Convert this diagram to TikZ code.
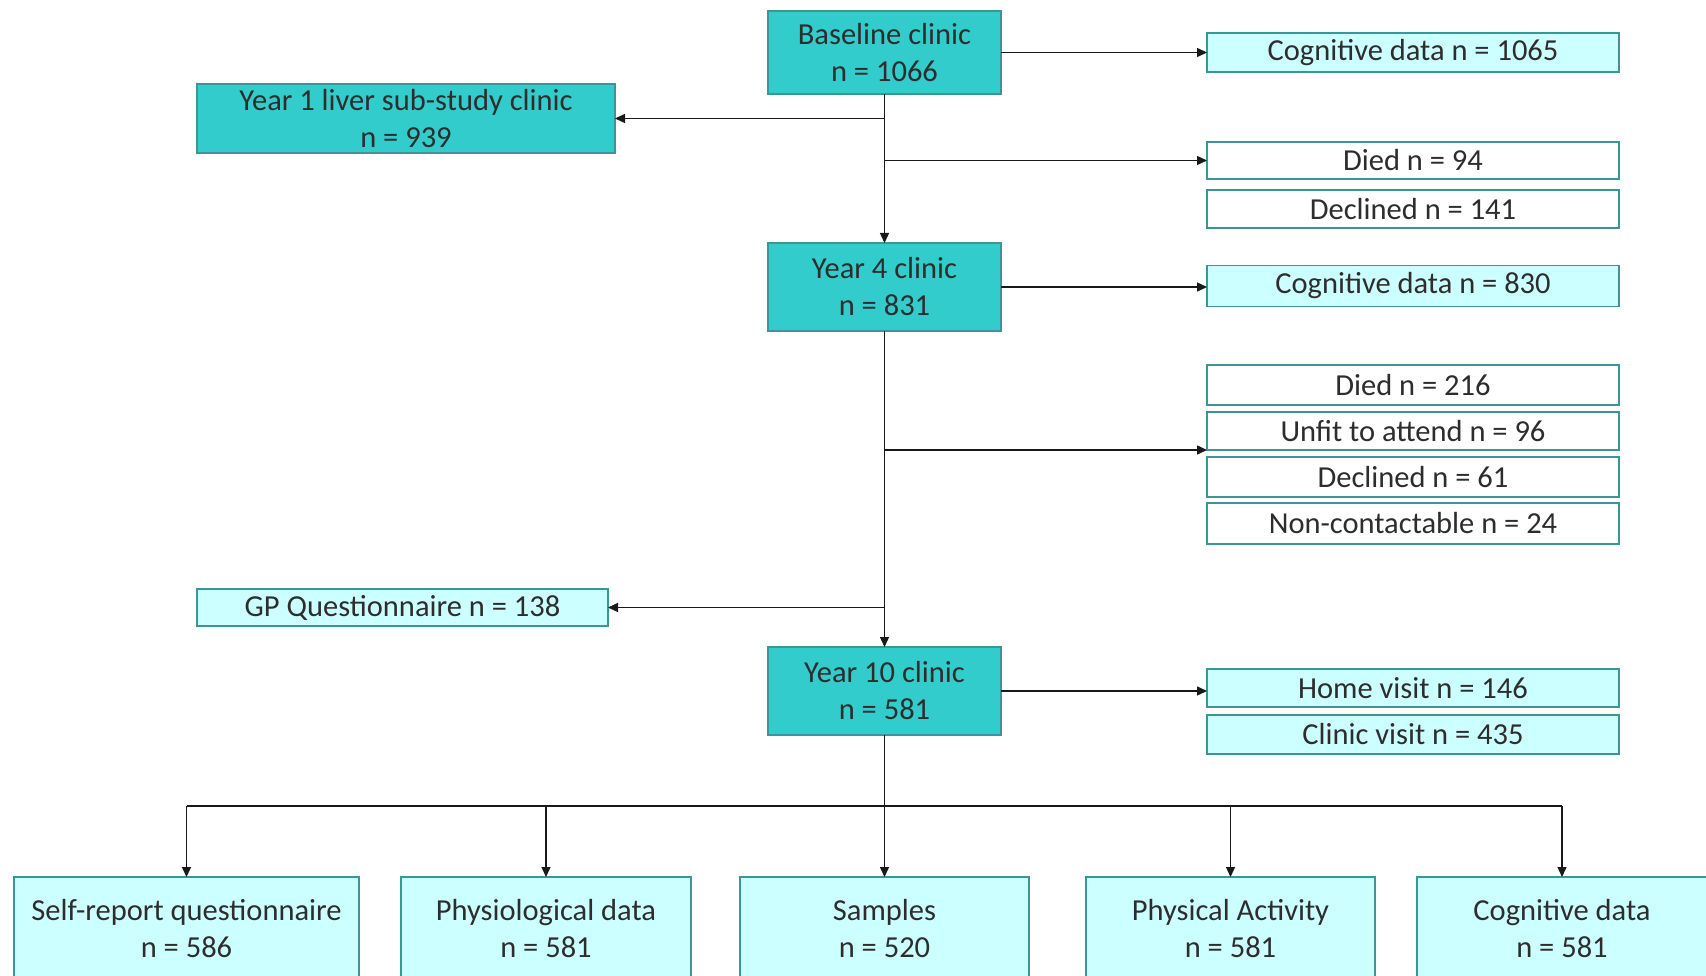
\documentclass[tikz,border=0pt]{standalone}
\usepackage{fontspec}
\setmainfont{Carlito}
\usetikzlibrary{arrows.meta}
\definecolor{tealdark}{RGB}{51,204,204}
\definecolor{cyanlight}{RGB}{204,255,255}
\definecolor{boxedge}{RGB}{60,150,150}
\definecolor{txt}{RGB}{45,45,45}
\begin{document}
\begin{tikzpicture}[x=1pt,y=-1pt,
  every node/.style={inner sep=0pt,outer sep=0pt,align=center,text=txt,font=\fontsize{30.5}{37}\selectfont},
  mainbox/.style={draw=boxedge,line width=1.2pt,fill=tealdark,minimum width=233pt,minimum height=86pt},
  infobox/.style={draw=boxedge,line width=1.2pt,fill=cyanlight,minimum width=412pt,minimum height=39pt},
  lossbox/.style={draw=boxedge,line width=1.2pt,fill=white,minimum width=412pt,minimum height=39pt},
  botbox/.style={draw=boxedge,line width=1.2pt,fill=cyanlight,minimum height=104pt},
  conn/.style={draw=black!90,line width=1.4pt},
  arr/.style={conn,-{Triangle[length=10pt,width=9pt]}}]
\useasboundingbox (0,0) rectangle (1706,976);
\fill[white] (0,0) rectangle (1706,976);

\node[mainbox,minimum height=83pt] (base) at (884.5,52.5) {Baseline clinic\\n = 1066};
\node[infobox] (cog1) at (1413,52.5) {Cognitive data n = 1065};
\node[mainbox,minimum width=418pt,minimum height=69pt] (y1) at (406,118.5) {Year 1 liver sub-study clinic\\n = 939};
\node[lossbox,minimum height=37pt] (died1) at (1413,160.5) {Died n = 94};
\node[lossbox,minimum height=38pt] (decl1) at (1413,209) {Declined n = 141};

\node[mainbox,minimum height=88pt] (y4) at (884.5,287) {Year 4 clinic\\n = 831};
\node[infobox,minimum height=41pt] (cog2) at (1413,286) {Cognitive data n = 830};
\node[lossbox,minimum height=40pt] (died2) at (1413,385) {Died n = 216};
\node[lossbox,minimum height=38pt] (unfit) at (1413,431) {Unfit to attend n = 96};
\node[lossbox,minimum height=40pt] (decl2) at (1413,477) {Declined n = 61};
\node[lossbox,minimum height=41pt] (noncon) at (1413,523.5) {Non-contactable n = 24};

\node[infobox,minimum width=411pt,minimum height=37pt] (gp) at (402.5,607.5) {GP Questionnaire n = 138};
\node[mainbox,minimum height=88pt] (y10) at (884.5,691) {Year 10 clinic\\n = 581};
\node[infobox,minimum height=38pt] (home) at (1413,688) {Home visit n = 146};
\node[infobox,minimum height=39pt] (clin) at (1413,734.5) {Clinic visit n = 435};

\node[botbox,minimum width=345pt] (b1) at (186.5,929) {Self-report questionnaire\\n = 586};
\node[botbox,minimum width=290pt] (b2) at (546,929) {Physiological data\\n = 581};
\node[botbox,minimum width=289pt] (b3) at (884.5,929) {Samples\\n = 520};
\node[botbox,minimum width=289pt] (b4) at (1230.5,929) {Physical Activity\\n = 581};
\node[botbox,minimum width=290pt] (b5) at (1562,929) {Cognitive data\\n = 581};

\coordinate (bus) at (884.5,806);

% connectors
\draw[arr] (base.east) -- (cog1.west);
\draw[arr] (base.south) -- (y4.north);
\draw[arr] (base.south |- y1.east) -- (y1.east);
\draw[arr] (base.south |- died1.west) -- (died1.west);

\draw[arr] (y4.east) -- (y4.east -| cog2.west);
\draw[arr] (y4.south) -- (y10.north);
\draw[arr] (y4.south |- unfit.south west) -- (unfit.south west);
\draw[arr] (y4.south |- gp.east) -- (gp.east);

\draw[arr] (y10.east) -- (y10.east -| home.west);
\draw[conn] (y10.south) -- (bus);
\draw[conn] (b1.north |- bus) -- (b5.north |- bus);
\foreach \b in {b1,b2,b3,b4,b5}
  \draw[arr] (\b.north |- bus) -- (\b.north);
\end{tikzpicture}
\end{document}
